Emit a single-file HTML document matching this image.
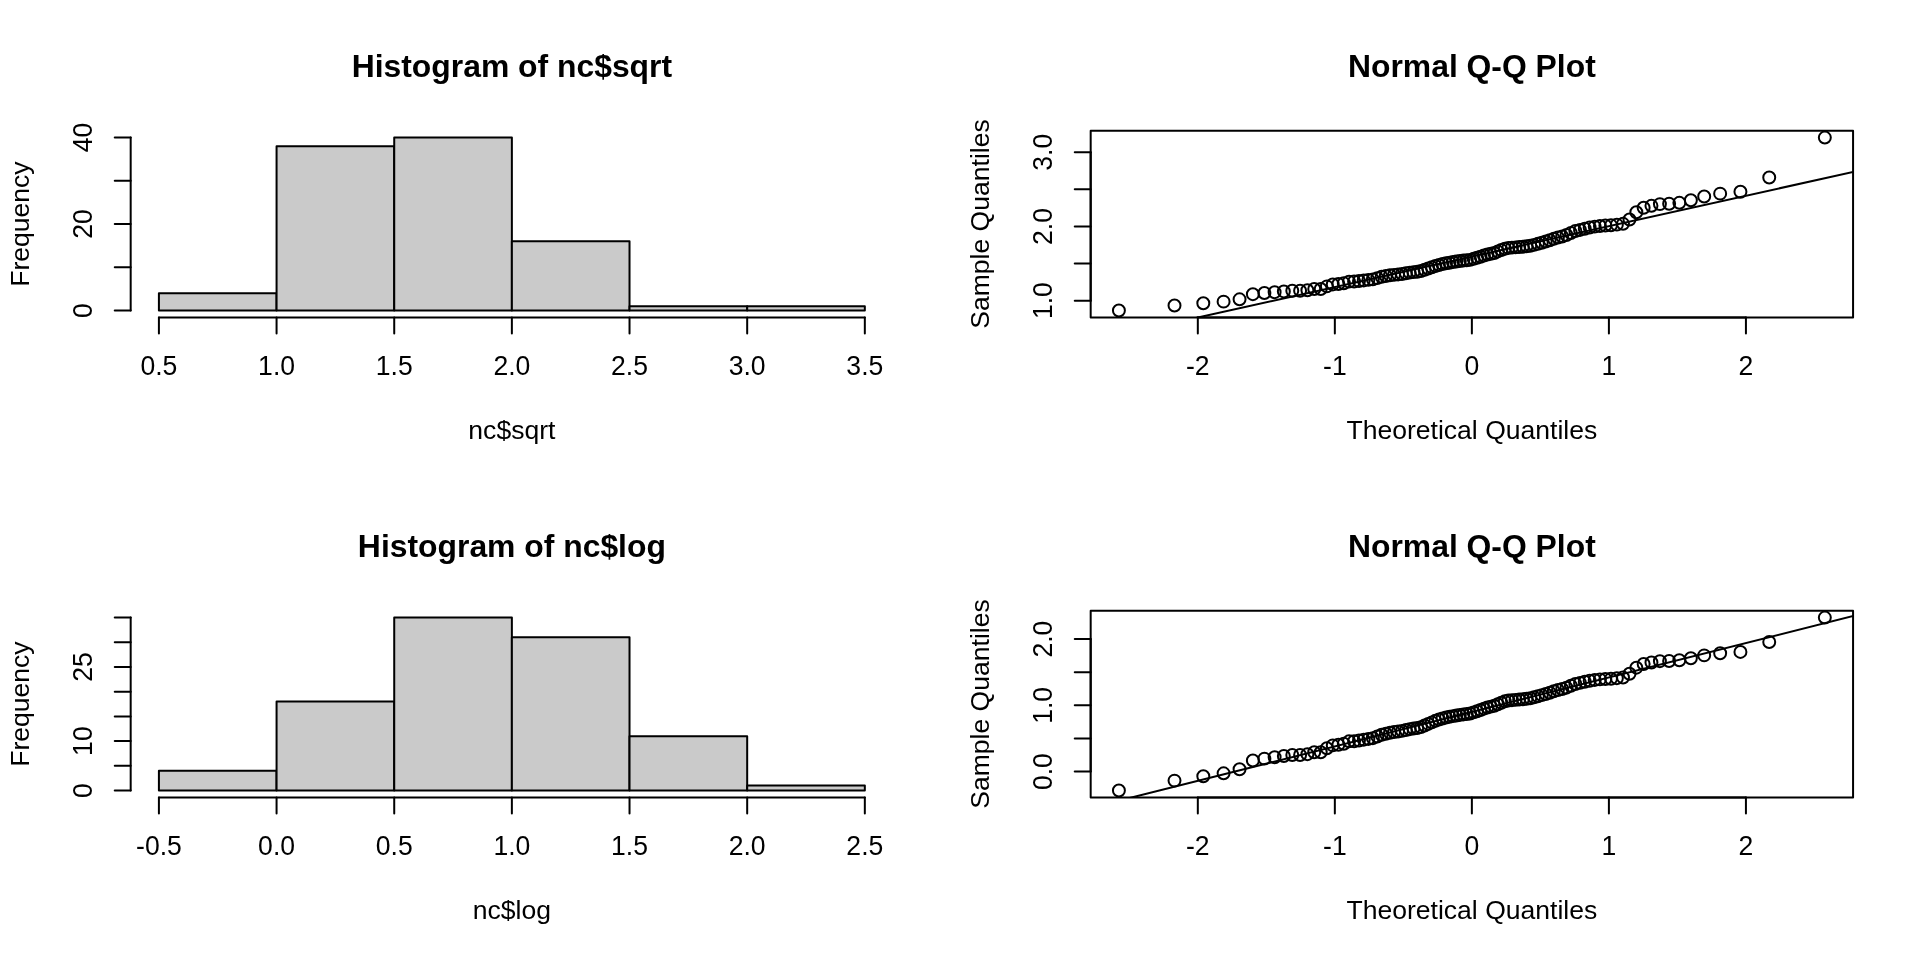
<!DOCTYPE html>
<html><head><meta charset="utf-8"><style>
html,body{margin:0;padding:0;background:#fff;overflow:hidden}
svg{display:block}
line,rect,circle{stroke-linejoin:round}
line{stroke:#000;stroke-width:2;stroke-linecap:round}
rect.bar{fill:#cacaca;stroke:#000;stroke-width:2}
rect.box{fill:none;stroke:#000;stroke-width:2}
circle{fill:none;stroke:#000;stroke-width:2}
text{font-family:"Liberation Sans",sans-serif;fill:#000}
body>svg{will-change:transform}
.t{font-size:26.56px}
.tb{font-size:31.87px;font-weight:bold}
</style></head><body>
<svg width="1920" height="960" viewBox="0 0 1920 960">
<rect x="0" y="0" width="1920" height="960" fill="#fff"/>
<rect class="bar" x="158.91" y="293.24" width="117.65" height="17.29"/>
<rect class="bar" x="276.57" y="146.24" width="117.65" height="164.30"/>
<rect class="bar" x="394.22" y="137.59" width="117.65" height="172.94"/>
<rect class="bar" x="511.87" y="241.36" width="117.65" height="69.18"/>
<rect class="bar" x="629.53" y="306.21" width="117.65" height="4.32"/>
<rect class="bar" x="747.18" y="306.21" width="117.65" height="4.32"/>
<line x1="158.91" y1="317.45" x2="864.83" y2="317.45"/>
<line x1="158.91" y1="317.45" x2="158.91" y2="333.39"/>
<text class="t" transform="translate(158.91,374.80) scale(1,1.04)" text-anchor="middle">0.5</text>
<line x1="276.57" y1="317.45" x2="276.57" y2="333.39"/>
<text class="t" transform="translate(276.57,374.80) scale(1,1.04)" text-anchor="middle">1.0</text>
<line x1="394.22" y1="317.45" x2="394.22" y2="333.39"/>
<text class="t" transform="translate(394.22,374.80) scale(1,1.04)" text-anchor="middle">1.5</text>
<line x1="511.87" y1="317.45" x2="511.87" y2="333.39"/>
<text class="t" transform="translate(511.87,374.80) scale(1,1.04)" text-anchor="middle">2.0</text>
<line x1="629.53" y1="317.45" x2="629.53" y2="333.39"/>
<text class="t" transform="translate(629.53,374.80) scale(1,1.04)" text-anchor="middle">2.5</text>
<line x1="747.18" y1="317.45" x2="747.18" y2="333.39"/>
<text class="t" transform="translate(747.18,374.80) scale(1,1.04)" text-anchor="middle">3.0</text>
<line x1="864.83" y1="317.45" x2="864.83" y2="333.39"/>
<text class="t" transform="translate(864.83,374.80) scale(1,1.04)" text-anchor="middle">3.5</text>
<line x1="130.68" y1="310.54" x2="130.68" y2="137.59"/>
<line x1="130.68" y1="310.54" x2="114.74" y2="310.54"/>
<text class="t" transform="translate(92.45,310.54) rotate(-90) scale(1,1.04)" text-anchor="middle">0</text>
<line x1="130.68" y1="267.30" x2="114.74" y2="267.30"/>
<line x1="130.68" y1="224.06" x2="114.74" y2="224.06"/>
<text class="t" transform="translate(92.45,224.06) rotate(-90) scale(1,1.04)" text-anchor="middle">20</text>
<line x1="130.68" y1="180.83" x2="114.74" y2="180.83"/>
<line x1="130.68" y1="137.59" x2="114.74" y2="137.59"/>
<text class="t" transform="translate(92.45,137.59) rotate(-90) scale(1,1.04)" text-anchor="middle">40</text>
<text class="tb" transform="translate(511.87,77.30) scale(1,1.0)" text-anchor="middle">Histogram of nc$sqrt</text>
<text class="t" transform="translate(511.87,438.56) scale(1,1.0)" text-anchor="middle">nc$sqrt</text>
<text class="t" transform="translate(28.70,224.06) rotate(-90) scale(1,1.0)" text-anchor="middle">Frequency</text>
<rect class="box" x="1090.68" y="130.68" width="762.39" height="186.78"/>
<svg x="1090.68" y="130.68" width="762.39" height="186.78" viewBox="1090.68 130.68 762.39 186.78" overflow="hidden">
<line x1="1060.79" y1="347.92" x2="1882.96" y2="165.33"/>
</svg>
<circle cx="1118.91" cy="310.54" r="5.98"/>
<circle cx="1174.51" cy="305.53" r="5.98"/>
<circle cx="1203.30" cy="303.23" r="5.98"/>
<circle cx="1223.59" cy="301.63" r="5.98"/>
<circle cx="1239.56" cy="299.33" r="5.98"/>
<circle cx="1252.88" cy="294.18" r="5.98"/>
<circle cx="1264.40" cy="293.02" r="5.98"/>
<circle cx="1274.62" cy="292.17" r="5.98"/>
<circle cx="1283.84" cy="291.42" r="5.98"/>
<circle cx="1292.29" cy="290.72" r="5.98"/>
<circle cx="1300.10" cy="290.72" r="5.98"/>
<circle cx="1307.39" cy="290.22" r="5.98"/>
<circle cx="1314.24" cy="289.02" r="5.98"/>
<circle cx="1320.72" cy="289.02" r="5.98"/>
<circle cx="1326.88" cy="286.37" r="5.98"/>
<circle cx="1332.76" cy="284.41" r="5.98"/>
<circle cx="1338.39" cy="284.01" r="5.98"/>
<circle cx="1343.81" cy="283.31" r="5.98"/>
<circle cx="1349.03" cy="281.61" r="5.98"/>
<circle cx="1354.08" cy="281.56" r="5.98"/>
<circle cx="1358.98" cy="280.99" r="5.98"/>
<circle cx="1363.73" cy="280.43" r="5.98"/>
<circle cx="1368.36" cy="279.89" r="5.98"/>
<circle cx="1372.87" cy="279.36" r="5.98"/>
<circle cx="1377.28" cy="278.12" r="5.98"/>
<circle cx="1381.59" cy="276.83" r="5.98"/>
<circle cx="1385.82" cy="276.08" r="5.98"/>
<circle cx="1389.96" cy="275.35" r="5.98"/>
<circle cx="1394.03" cy="274.87" r="5.98"/>
<circle cx="1398.04" cy="274.41" r="5.98"/>
<circle cx="1401.98" cy="273.95" r="5.98"/>
<circle cx="1405.86" cy="273.30" r="5.98"/>
<circle cx="1409.69" cy="272.63" r="5.98"/>
<circle cx="1413.48" cy="272.13" r="5.98"/>
<circle cx="1417.22" cy="271.70" r="5.98"/>
<circle cx="1420.92" cy="271.06" r="5.98"/>
<circle cx="1424.58" cy="269.78" r="5.98"/>
<circle cx="1428.21" cy="268.51" r="5.98"/>
<circle cx="1431.81" cy="267.25" r="5.98"/>
<circle cx="1435.38" cy="266.00" r="5.98"/>
<circle cx="1438.93" cy="264.98" r="5.98"/>
<circle cx="1442.45" cy="264.10" r="5.98"/>
<circle cx="1445.96" cy="263.30" r="5.98"/>
<circle cx="1449.45" cy="262.69" r="5.98"/>
<circle cx="1452.92" cy="262.08" r="5.98"/>
<circle cx="1456.38" cy="261.55" r="5.98"/>
<circle cx="1459.83" cy="261.03" r="5.98"/>
<circle cx="1463.28" cy="260.59" r="5.98"/>
<circle cx="1466.72" cy="260.25" r="5.98"/>
<circle cx="1470.15" cy="259.87" r="5.98"/>
<circle cx="1473.59" cy="258.84" r="5.98"/>
<circle cx="1477.03" cy="257.81" r="5.98"/>
<circle cx="1480.46" cy="256.70" r="5.98"/>
<circle cx="1483.91" cy="255.53" r="5.98"/>
<circle cx="1487.36" cy="254.45" r="5.98"/>
<circle cx="1490.82" cy="253.70" r="5.98"/>
<circle cx="1494.30" cy="252.97" r="5.98"/>
<circle cx="1497.79" cy="251.43" r="5.98"/>
<circle cx="1501.29" cy="250.05" r="5.98"/>
<circle cx="1504.82" cy="248.73" r="5.98"/>
<circle cx="1508.36" cy="247.91" r="5.98"/>
<circle cx="1511.94" cy="247.64" r="5.98"/>
<circle cx="1515.53" cy="247.37" r="5.98"/>
<circle cx="1519.16" cy="247.05" r="5.98"/>
<circle cx="1522.83" cy="246.73" r="5.98"/>
<circle cx="1526.53" cy="246.24" r="5.98"/>
<circle cx="1530.27" cy="245.72" r="5.98"/>
<circle cx="1534.05" cy="244.87" r="5.98"/>
<circle cx="1537.88" cy="243.82" r="5.98"/>
<circle cx="1541.77" cy="242.71" r="5.98"/>
<circle cx="1545.71" cy="241.52" r="5.98"/>
<circle cx="1549.71" cy="240.25" r="5.98"/>
<circle cx="1553.78" cy="238.83" r="5.98"/>
<circle cx="1557.93" cy="237.51" r="5.98"/>
<circle cx="1562.15" cy="236.45" r="5.98"/>
<circle cx="1566.46" cy="235.06" r="5.98"/>
<circle cx="1570.87" cy="233.04" r="5.98"/>
<circle cx="1575.38" cy="231.05" r="5.98"/>
<circle cx="1580.01" cy="229.91" r="5.98"/>
<circle cx="1584.77" cy="228.71" r="5.98"/>
<circle cx="1589.66" cy="227.56" r="5.98"/>
<circle cx="1594.71" cy="226.61" r="5.98"/>
<circle cx="1599.94" cy="226.00" r="5.98"/>
<circle cx="1605.35" cy="225.60" r="5.98"/>
<circle cx="1610.99" cy="225.32" r="5.98"/>
<circle cx="1616.86" cy="224.63" r="5.98"/>
<circle cx="1623.02" cy="223.84" r="5.98"/>
<circle cx="1629.50" cy="219.56" r="5.98"/>
<circle cx="1636.35" cy="212.25" r="5.98"/>
<circle cx="1643.65" cy="207.75" r="5.98"/>
<circle cx="1651.46" cy="205.85" r="5.98"/>
<circle cx="1659.90" cy="204.11" r="5.98"/>
<circle cx="1669.13" cy="203.80" r="5.98"/>
<circle cx="1679.35" cy="202.85" r="5.98"/>
<circle cx="1690.87" cy="200.24" r="5.98"/>
<circle cx="1704.19" cy="196.44" r="5.98"/>
<circle cx="1720.15" cy="193.64" r="5.98"/>
<circle cx="1740.44" cy="191.74" r="5.98"/>
<circle cx="1769.23" cy="177.53" r="5.98"/>
<circle cx="1824.83" cy="137.59" r="5.98"/>
<line x1="1197.82" y1="317.45" x2="1745.93" y2="317.45"/>
<line x1="1197.82" y1="317.45" x2="1197.82" y2="333.39"/>
<text class="t" transform="translate(1197.82,374.80) scale(1,1.04)" text-anchor="middle">-2</text>
<line x1="1334.84" y1="317.45" x2="1334.84" y2="333.39"/>
<text class="t" transform="translate(1334.84,374.80) scale(1,1.04)" text-anchor="middle">-1</text>
<line x1="1471.87" y1="317.45" x2="1471.87" y2="333.39"/>
<text class="t" transform="translate(1471.87,374.80) scale(1,1.04)" text-anchor="middle">0</text>
<line x1="1608.90" y1="317.45" x2="1608.90" y2="333.39"/>
<text class="t" transform="translate(1608.90,374.80) scale(1,1.04)" text-anchor="middle">1</text>
<line x1="1745.93" y1="317.45" x2="1745.93" y2="333.39"/>
<text class="t" transform="translate(1745.93,374.80) scale(1,1.04)" text-anchor="middle">2</text>
<line x1="1090.68" y1="300.66" x2="1090.68" y2="152.22"/>
<line x1="1090.68" y1="300.66" x2="1074.74" y2="300.66"/>
<text class="t" transform="translate(1052.45,300.66) rotate(-90) scale(1,1.04)" text-anchor="middle">1.0</text>
<line x1="1090.68" y1="263.55" x2="1074.74" y2="263.55"/>
<line x1="1090.68" y1="226.44" x2="1074.74" y2="226.44"/>
<text class="t" transform="translate(1052.45,226.44) rotate(-90) scale(1,1.04)" text-anchor="middle">2.0</text>
<line x1="1090.68" y1="189.33" x2="1074.74" y2="189.33"/>
<line x1="1090.68" y1="152.22" x2="1074.74" y2="152.22"/>
<text class="t" transform="translate(1052.45,152.22) rotate(-90) scale(1,1.04)" text-anchor="middle">3.0</text>
<text class="tb" transform="translate(1471.87,77.30) scale(1,1.0)" text-anchor="middle">Normal Q-Q Plot</text>
<text class="t" transform="translate(1471.87,438.56) scale(1,1.0)" text-anchor="middle">Theoretical Quantiles</text>
<text class="t" transform="translate(988.70,224.06) rotate(-90) scale(1,1.0)" text-anchor="middle">Sample Quantiles</text>
<rect class="bar" x="158.91" y="770.77" width="117.65" height="19.76"/>
<rect class="bar" x="276.57" y="701.59" width="117.65" height="88.94"/>
<rect class="bar" x="394.22" y="617.59" width="117.65" height="172.94"/>
<rect class="bar" x="511.87" y="637.36" width="117.65" height="153.18"/>
<rect class="bar" x="629.53" y="736.18" width="117.65" height="54.35"/>
<rect class="bar" x="747.18" y="785.59" width="117.65" height="4.94"/>
<line x1="158.91" y1="797.45" x2="864.83" y2="797.45"/>
<line x1="158.91" y1="797.45" x2="158.91" y2="813.39"/>
<text class="t" transform="translate(158.91,854.80) scale(1,1.04)" text-anchor="middle">-0.5</text>
<line x1="276.57" y1="797.45" x2="276.57" y2="813.39"/>
<text class="t" transform="translate(276.57,854.80) scale(1,1.04)" text-anchor="middle">0.0</text>
<line x1="394.22" y1="797.45" x2="394.22" y2="813.39"/>
<text class="t" transform="translate(394.22,854.80) scale(1,1.04)" text-anchor="middle">0.5</text>
<line x1="511.87" y1="797.45" x2="511.87" y2="813.39"/>
<text class="t" transform="translate(511.87,854.80) scale(1,1.04)" text-anchor="middle">1.0</text>
<line x1="629.53" y1="797.45" x2="629.53" y2="813.39"/>
<text class="t" transform="translate(629.53,854.80) scale(1,1.04)" text-anchor="middle">1.5</text>
<line x1="747.18" y1="797.45" x2="747.18" y2="813.39"/>
<text class="t" transform="translate(747.18,854.80) scale(1,1.04)" text-anchor="middle">2.0</text>
<line x1="864.83" y1="797.45" x2="864.83" y2="813.39"/>
<text class="t" transform="translate(864.83,854.80) scale(1,1.04)" text-anchor="middle">2.5</text>
<line x1="130.68" y1="790.54" x2="130.68" y2="617.59"/>
<line x1="130.68" y1="790.54" x2="114.74" y2="790.54"/>
<text class="t" transform="translate(92.45,790.54) rotate(-90) scale(1,1.04)" text-anchor="middle">0</text>
<line x1="130.68" y1="765.83" x2="114.74" y2="765.83"/>
<line x1="130.68" y1="741.12" x2="114.74" y2="741.12"/>
<text class="t" transform="translate(92.45,741.12) rotate(-90) scale(1,1.04)" text-anchor="middle">10</text>
<line x1="130.68" y1="716.42" x2="114.74" y2="716.42"/>
<line x1="130.68" y1="691.71" x2="114.74" y2="691.71"/>
<line x1="130.68" y1="667.00" x2="114.74" y2="667.00"/>
<text class="t" transform="translate(92.45,667.00) rotate(-90) scale(1,1.04)" text-anchor="middle">25</text>
<line x1="130.68" y1="642.30" x2="114.74" y2="642.30"/>
<line x1="130.68" y1="617.59" x2="114.74" y2="617.59"/>
<text class="tb" transform="translate(511.87,557.30) scale(1,1.0)" text-anchor="middle">Histogram of nc$log</text>
<text class="t" transform="translate(511.87,918.56) scale(1,1.0)" text-anchor="middle">nc$log</text>
<text class="t" transform="translate(28.70,704.06) rotate(-90) scale(1,1.0)" text-anchor="middle">Frequency</text>
<rect class="box" x="1090.68" y="610.68" width="762.39" height="186.78"/>
<svg x="1090.68" y="610.68" width="762.39" height="186.78" viewBox="1090.68 610.68 762.39 186.78" overflow="hidden">
<line x1="1060.79" y1="815.27" x2="1882.96" y2="608.55"/>
</svg>
<circle cx="1118.91" cy="790.54" r="5.98"/>
<circle cx="1174.51" cy="780.61" r="5.98"/>
<circle cx="1203.30" cy="776.28" r="5.98"/>
<circle cx="1223.59" cy="773.35" r="5.98"/>
<circle cx="1239.56" cy="769.25" r="5.98"/>
<circle cx="1252.88" cy="760.52" r="5.98"/>
<circle cx="1264.40" cy="758.63" r="5.98"/>
<circle cx="1274.62" cy="757.26" r="5.98"/>
<circle cx="1283.84" cy="756.06" r="5.98"/>
<circle cx="1292.29" cy="754.96" r="5.98"/>
<circle cx="1300.10" cy="754.96" r="5.98"/>
<circle cx="1307.39" cy="754.17" r="5.98"/>
<circle cx="1314.24" cy="752.30" r="5.98"/>
<circle cx="1320.72" cy="752.30" r="5.98"/>
<circle cx="1326.88" cy="748.27" r="5.98"/>
<circle cx="1332.76" cy="745.38" r="5.98"/>
<circle cx="1338.39" cy="744.80" r="5.98"/>
<circle cx="1343.81" cy="743.78" r="5.98"/>
<circle cx="1349.03" cy="741.34" r="5.98"/>
<circle cx="1354.08" cy="741.26" r="5.98"/>
<circle cx="1358.98" cy="740.45" r="5.98"/>
<circle cx="1363.73" cy="739.67" r="5.98"/>
<circle cx="1368.36" cy="738.91" r="5.98"/>
<circle cx="1372.87" cy="738.18" r="5.98"/>
<circle cx="1377.28" cy="736.47" r="5.98"/>
<circle cx="1381.59" cy="734.71" r="5.98"/>
<circle cx="1385.82" cy="733.70" r="5.98"/>
<circle cx="1389.96" cy="732.73" r="5.98"/>
<circle cx="1394.03" cy="732.10" r="5.98"/>
<circle cx="1398.04" cy="731.48" r="5.98"/>
<circle cx="1401.98" cy="730.87" r="5.98"/>
<circle cx="1405.86" cy="730.02" r="5.98"/>
<circle cx="1409.69" cy="729.16" r="5.98"/>
<circle cx="1413.48" cy="728.51" r="5.98"/>
<circle cx="1417.22" cy="727.96" r="5.98"/>
<circle cx="1420.92" cy="727.14" r="5.98"/>
<circle cx="1424.58" cy="725.51" r="5.98"/>
<circle cx="1428.21" cy="723.92" r="5.98"/>
<circle cx="1431.81" cy="722.36" r="5.98"/>
<circle cx="1435.38" cy="720.83" r="5.98"/>
<circle cx="1438.93" cy="719.60" r="5.98"/>
<circle cx="1442.45" cy="718.54" r="5.98"/>
<circle cx="1445.96" cy="717.58" r="5.98"/>
<circle cx="1449.45" cy="716.85" r="5.98"/>
<circle cx="1452.92" cy="716.14" r="5.98"/>
<circle cx="1456.38" cy="715.52" r="5.98"/>
<circle cx="1459.83" cy="714.91" r="5.98"/>
<circle cx="1463.28" cy="714.41" r="5.98"/>
<circle cx="1466.72" cy="714.01" r="5.98"/>
<circle cx="1470.15" cy="713.58" r="5.98"/>
<circle cx="1473.59" cy="712.39" r="5.98"/>
<circle cx="1477.03" cy="711.22" r="5.98"/>
<circle cx="1480.46" cy="709.96" r="5.98"/>
<circle cx="1483.91" cy="708.66" r="5.98"/>
<circle cx="1487.36" cy="707.46" r="5.98"/>
<circle cx="1490.82" cy="706.64" r="5.98"/>
<circle cx="1494.30" cy="705.85" r="5.98"/>
<circle cx="1497.79" cy="704.19" r="5.98"/>
<circle cx="1501.29" cy="702.71" r="5.98"/>
<circle cx="1504.82" cy="701.32" r="5.98"/>
<circle cx="1508.36" cy="700.46" r="5.98"/>
<circle cx="1511.94" cy="700.18" r="5.98"/>
<circle cx="1515.53" cy="699.89" r="5.98"/>
<circle cx="1519.16" cy="699.56" r="5.98"/>
<circle cx="1522.83" cy="699.23" r="5.98"/>
<circle cx="1526.53" cy="698.73" r="5.98"/>
<circle cx="1530.27" cy="698.20" r="5.98"/>
<circle cx="1534.05" cy="697.33" r="5.98"/>
<circle cx="1537.88" cy="696.26" r="5.98"/>
<circle cx="1541.77" cy="695.14" r="5.98"/>
<circle cx="1545.71" cy="693.96" r="5.98"/>
<circle cx="1549.71" cy="692.70" r="5.98"/>
<circle cx="1553.78" cy="691.31" r="5.98"/>
<circle cx="1557.93" cy="690.02" r="5.98"/>
<circle cx="1562.15" cy="689.01" r="5.98"/>
<circle cx="1566.46" cy="687.68" r="5.98"/>
<circle cx="1570.87" cy="685.78" r="5.98"/>
<circle cx="1575.38" cy="683.94" r="5.98"/>
<circle cx="1580.01" cy="682.89" r="5.98"/>
<circle cx="1584.77" cy="681.80" r="5.98"/>
<circle cx="1589.66" cy="680.76" r="5.98"/>
<circle cx="1594.71" cy="679.91" r="5.98"/>
<circle cx="1599.94" cy="679.36" r="5.98"/>
<circle cx="1605.35" cy="679.01" r="5.98"/>
<circle cx="1610.99" cy="678.76" r="5.98"/>
<circle cx="1616.86" cy="678.15" r="5.98"/>
<circle cx="1623.02" cy="677.46" r="5.98"/>
<circle cx="1629.50" cy="673.75" r="5.98"/>
<circle cx="1636.35" cy="667.66" r="5.98"/>
<circle cx="1643.65" cy="664.04" r="5.98"/>
<circle cx="1651.46" cy="662.54" r="5.98"/>
<circle cx="1659.90" cy="661.18" r="5.98"/>
<circle cx="1669.13" cy="660.94" r="5.98"/>
<circle cx="1679.35" cy="660.21" r="5.98"/>
<circle cx="1690.87" cy="658.22" r="5.98"/>
<circle cx="1704.19" cy="655.36" r="5.98"/>
<circle cx="1720.15" cy="653.30" r="5.98"/>
<circle cx="1740.44" cy="651.92" r="5.98"/>
<circle cx="1769.23" cy="642.01" r="5.98"/>
<circle cx="1824.83" cy="617.59" r="5.98"/>
<line x1="1197.82" y1="797.45" x2="1745.93" y2="797.45"/>
<line x1="1197.82" y1="797.45" x2="1197.82" y2="813.39"/>
<text class="t" transform="translate(1197.82,854.80) scale(1,1.04)" text-anchor="middle">-2</text>
<line x1="1334.84" y1="797.45" x2="1334.84" y2="813.39"/>
<text class="t" transform="translate(1334.84,854.80) scale(1,1.04)" text-anchor="middle">-1</text>
<line x1="1471.87" y1="797.45" x2="1471.87" y2="813.39"/>
<text class="t" transform="translate(1471.87,854.80) scale(1,1.04)" text-anchor="middle">0</text>
<line x1="1608.90" y1="797.45" x2="1608.90" y2="813.39"/>
<text class="t" transform="translate(1608.90,854.80) scale(1,1.04)" text-anchor="middle">1</text>
<line x1="1745.93" y1="797.45" x2="1745.93" y2="813.39"/>
<text class="t" transform="translate(1745.93,854.80) scale(1,1.04)" text-anchor="middle">2</text>
<line x1="1090.68" y1="771.61" x2="1090.68" y2="639.09"/>
<line x1="1090.68" y1="771.61" x2="1074.74" y2="771.61"/>
<text class="t" transform="translate(1052.45,771.61) rotate(-90) scale(1,1.04)" text-anchor="middle">0.0</text>
<line x1="1090.68" y1="738.48" x2="1074.74" y2="738.48"/>
<line x1="1090.68" y1="705.35" x2="1074.74" y2="705.35"/>
<text class="t" transform="translate(1052.45,705.35) rotate(-90) scale(1,1.04)" text-anchor="middle">1.0</text>
<line x1="1090.68" y1="672.22" x2="1074.74" y2="672.22"/>
<line x1="1090.68" y1="639.09" x2="1074.74" y2="639.09"/>
<text class="t" transform="translate(1052.45,639.09) rotate(-90) scale(1,1.04)" text-anchor="middle">2.0</text>
<text class="tb" transform="translate(1471.87,557.30) scale(1,1.0)" text-anchor="middle">Normal Q-Q Plot</text>
<text class="t" transform="translate(1471.87,918.56) scale(1,1.0)" text-anchor="middle">Theoretical Quantiles</text>
<text class="t" transform="translate(988.70,704.06) rotate(-90) scale(1,1.0)" text-anchor="middle">Sample Quantiles</text>
</svg>
</body></html>
